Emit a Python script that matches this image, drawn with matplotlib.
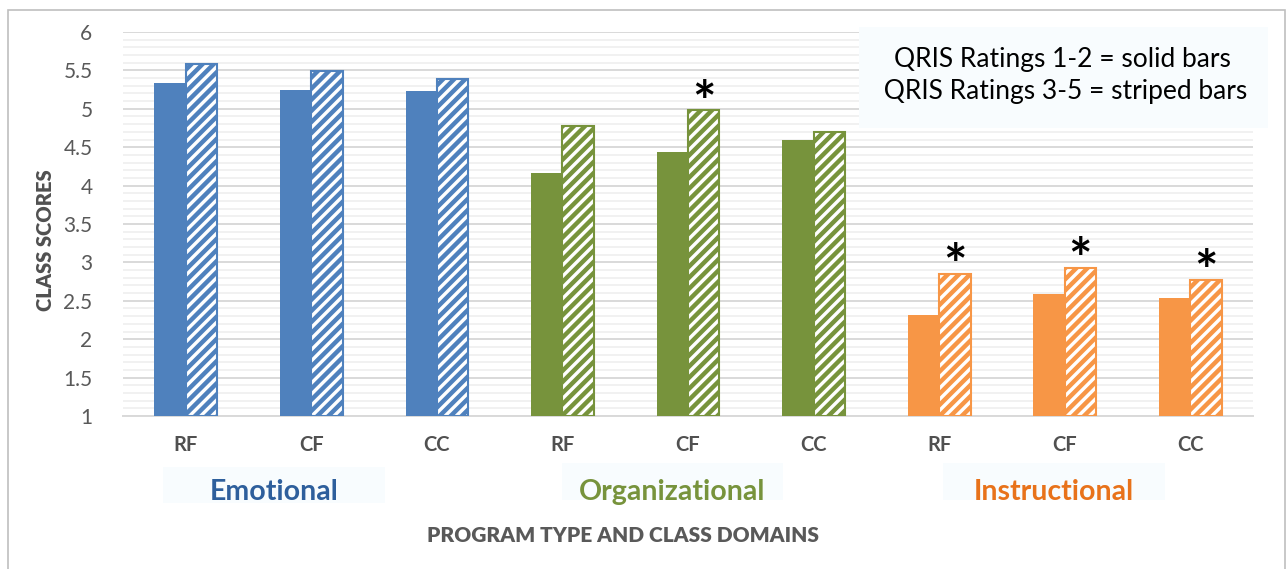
import numpy as np
import matplotlib
matplotlib.use("Agg")
import matplotlib.pyplot as plt
from matplotlib.ticker import MultipleLocator

plt.rcParams['font.family'] = ['Lato', 'DejaVu Sans']
plt.rcParams['hatch.linewidth'] = 3.2

programs = ['RF', 'CF', 'CC', 'RF', 'CF', 'CC', 'RF', 'CF', 'CC']
domains = ['Emotional', 'Organizational', 'Instructional']
solid_vals = [5.34, 5.25, 5.23, 4.16, 4.44, 4.59, 2.31, 2.59, 2.54]
striped_vals = [5.58, 5.49, 5.39, 4.78, 4.98, 4.70, 2.85, 2.93, 2.77]
significant = [False, False, False, False, True, False, True, True, True]

domain_colors = ['#4F81BD', '#77933C', '#F79646']
label_colors = ['#2E5F9C', '#77933C', '#E8721A']

W, H = 1286, 569
fig = plt.figure(figsize=(W / 100, H / 100), dpi=100)
ax = fig.add_axes([123 / W, 1 - 416 / H, 1130 / W, 384 / H])


def px_rect(x0, y0, x1, y1, **kw):
    # rectangle given in image pixels (top-left origin)
    return plt.Rectangle((x0 / W, 1 - y1 / H), (x1 - x0) / W, (y1 - y0) / H,
                         transform=fig.transFigure, **kw)


x = np.arange(len(programs))
w = 0.25
for g in range(3):
    idx = x[g * 3:(g + 1) * 3]
    c = domain_colors[g]
    ax.bar(idx - w / 2, [solid_vals[i] - 1 for i in idx], w, bottom=1,
           color=c, edgecolor=c, linewidth=0, zorder=3)
    ax.bar(idx + w / 2, [striped_vals[i] - 1 for i in idx], w, bottom=1,
           color='white', edgecolor=c, hatch='///', linewidth=1.5, zorder=3)

# significance stars just above the striped bars
for i in x:
    if significant[i]:
        ax.text(i + w / 2, striped_vals[i] - 0.25, '*', ha='center', va='bottom',
                fontsize=40, fontweight='bold', color='black', zorder=4)

ax.set_xlim(-0.5, len(programs) - 0.5)
ax.set_ylim(1, 6)
ax.yaxis.set_minor_locator(MultipleLocator(0.1))
yt = np.arange(1, 6.01, 0.5)
ax.set_yticks(yt)
ax.set_yticklabels(['%g' % v for v in yt], fontsize=15, color='#595959')
ax.grid(axis='y', which='major', color='#D9D9D9', linewidth=1.4, zorder=0)
ax.grid(axis='y', which='minor', color='#EDEDED', linewidth=1.1, zorder=0)
ax.set_xticks(x)
ax.set_xticklabels(programs, fontsize=14.5, fontweight='bold', color='#505050')
ax.tick_params(axis='x', which='both', length=0, pad=14)
ax.tick_params(axis='y', which='both', length=0, pad=22)
for s in ['top', 'right', 'left']:
    ax.spines[s].set_visible(False)
ax.spines['bottom'].set_color('#D9D9D9')
ax.spines['bottom'].set_linewidth(1.4)

fig.text(45 / W, 1 - 240 / H, 'CLASS SCORES', rotation=90, ha='center', va='center',
         fontsize=14.5, fontweight='heavy', color='#505050')
fig.text(623 / W, 1 - 535 / H, 'PROGRAM TYPE AND CLASS DOMAINS', ha='center', va='center',
         fontsize=15, fontweight='heavy', color='#595959')

boxes = [(163, 467, 385, 503), (562, 463, 783, 500), (943, 463, 1165, 500)]
for g, name in enumerate(domains):
    x0, y0, x1, y1 = boxes[g]
    fig.add_artist(px_rect(x0, y0, x1, y1, facecolor='#F8FCFE', edgecolor='none'))
    fig.text((x0 + x1) / 2 / W, 1 - 492 / H, name, ha='center', va='center',
             fontsize=20.5, fontweight='bold', color=label_colors[g])

fig.add_artist(px_rect(859, 27, 1268, 128, facecolor='#F8FCFE', edgecolor='none'))
fig.text(1062 / W, 1 - 76 / H,
         'QRIS Ratings 1-2 = solid bars\n QRIS Ratings 3-5 = striped bars',
         ha='center', va='center', fontsize=19, color='black', linespacing=1.35)

fig.add_artist(px_rect(8, 10, W - 1, H + 2, fill=False, edgecolor='#BFBFBF', linewidth=1.2))

fig.savefig('out.png', dpi=100)
